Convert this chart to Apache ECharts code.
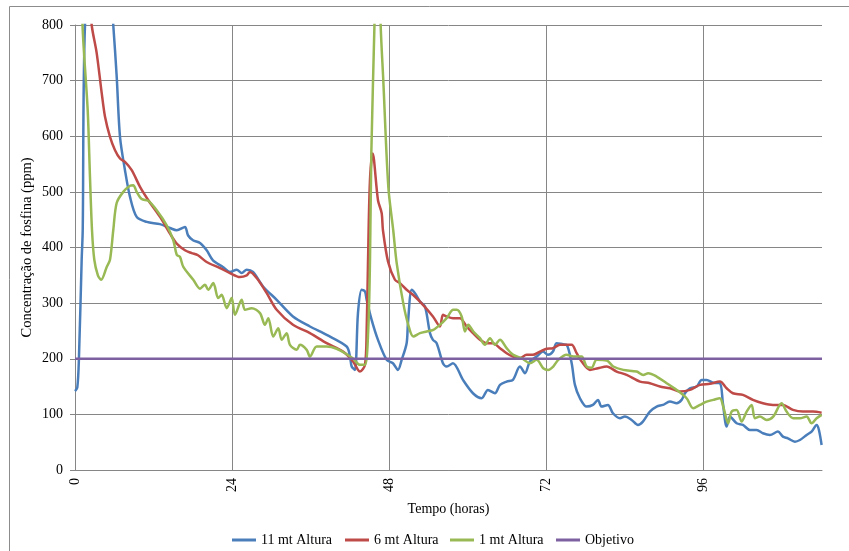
<!DOCTYPE html>
<html>
<head>
<meta charset="utf-8">
<script src="https://cdn.jsdelivr.net/npm/echarts@6/dist/echarts.min.js"></script>
<style>
html,body{margin:0;padding:0;background:#fff;}
#c{width:849px;height:551px;}
</style>
</head>
<body>
<div id="c"></div>
<script>
// ---- data (hours, ppm) ----
var hours11 = [0, 0.35, 0.6, 1.02, 1.18, 1.53, 3.6, 5.85, 6.37, 6.88, 7.64, 8.41, 9.43, 10.96, 12.99, 14.52, 15.55, 16.81, 17.27, 18.04, 19.11, 20.13, 21.09, 22.62, 23.69, 24.72, 25.48, 26.25, 27.21, 28.74, 30.83, 33.32, 35.92, 38.47, 41.53, 42.04, 42.3, 42.8, 43.26, 43.82, 44.33, 44.59, 45.35, 46.32, 47.65, 48.61, 49.37, 49.94, 50.7, 50.9, 51.47, 51.97, 52.74, 53.5, 54.27, 54.72, 55.29, 56.25, 56.82, 57.78, 59.31, 60.84, 62.17, 63.13, 64.2, 64.97, 65.99, 66.95, 68.02, 68.79, 69.55, 70.58, 71.54, 72.3, 73.07, 73.63, 74.6, 75.16, 75.93, 76.43, 77.19, 78.22, 79.18, 79.95, 80.51, 81.47, 82.24, 83.31, 84.07, 85.1, 86.06, 86.82, 87.89, 88.92, 89.88, 90.95, 91.98, 92.74, 93.25, 94.01, 95.04, 95.8, 96.57, 97.52, 98.59, 99.05, 99.62, 100.12, 101.15, 102.11, 103.18, 104.21, 105.17, 106.24, 107.46, 108.23, 108.99, 110.06, 110.82, 111.85, 112.61, 113.38, 113.73, 114.14];
var ppm11 = [142, 148, 200, 378, 431, 800, 1150, 800, 708, 599, 539, 491, 455, 446, 442, 435, 431, 437, 422, 413, 408, 395, 377, 365, 356, 360, 354, 360, 356, 330, 306, 276, 258, 243, 222, 204, 186, 180, 282, 324, 321, 306, 270, 234, 198, 192, 180, 198, 228, 264, 324, 318, 303, 294, 246, 234, 228, 192, 186, 192, 162, 138, 129, 144, 138, 153, 159, 162, 186, 174, 195, 204, 213, 207, 213, 228, 226, 225, 192, 153, 129, 114, 117, 126, 114, 117, 102, 93, 96, 90, 81, 87, 105, 114, 117, 123, 120, 126, 138, 147, 150, 162, 162, 157, 156, 120, 78, 96, 84, 81, 72, 72, 66, 63, 69, 60, 57, 51, 54, 63, 69, 81, 72, 45];

var hours6 = [0, 2.55, 3.31, 4.08, 4.59, 5.35, 6.12, 6.88, 7.64, 8.67, 9.94, 11.21, 13.0, 14.52, 15.55, 16.81, 17.83, 18.8, 20.13, 22.17, 23.69, 25.21, 26.25, 26.76, 27.78, 29.31, 30.83, 33.32, 35.92, 38.47, 40.97, 42.5, 43.26, 43.57, 44.33, 44.59, 44.79, 45.09, 45.51, 46.32, 46.88, 47.08, 47.85, 48.91, 49.68, 50.7, 51.67, 53.2, 54.72, 55.79, 56.25, 56.82, 57.78, 58.85, 59.87, 60.84, 61.91, 62.93, 63.9, 64.97, 65.99, 66.95, 68.02, 69.04, 70.01, 71.08, 72.1, 73.07, 74.14, 75.16, 75.93, 76.69, 77.45, 78.72, 79.95, 81.28, 82.8, 84.33, 86.37, 87.89, 89.42, 90.95, 92.48, 94.01, 95.54, 97.07, 98.59, 99.62, 100.58, 102.11, 103.64, 105.17, 106.69, 108.23, 109.76, 111.28, 112.81, 114.14];
var ppm6 = [1100, 800, 750, 678, 635, 599, 575, 560, 554, 539, 509, 485, 455, 425, 407, 395, 390, 386, 374, 363, 354, 347, 350, 356, 345, 318, 288, 261, 246, 228, 213, 195, 180, 177, 189, 252, 372, 520, 569, 485, 462, 431, 375, 342, 336, 324, 315, 297, 276, 258, 279, 276, 273, 273, 258, 246, 234, 228, 228, 219, 210, 204, 201, 207, 207, 213, 218, 219, 225, 225, 225, 210, 195, 180, 183, 186, 177, 171, 159, 156, 150, 147, 141, 144, 153, 155, 159, 147, 138, 135, 126, 120, 117, 117, 108, 105, 105, 103];

var hours1 = [0, 1.15, 1.94, 2.29, 2.6, 2.95, 3.5, 4.0, 4.85, 5.35, 5.85, 6.37, 7.38, 8.41, 8.91, 9.43, 10.2, 11.2, 12.49, 14.02, 15.03, 15.55, 16.05, 16.56, 18.08, 19.11, 19.87, 20.38, 21.14, 21.9, 22.42, 23.19, 23.95, 24.46, 25.48, 25.99, 27.01, 28.28, 29.04, 29.55, 30.31, 31.08, 31.6, 32.36, 32.86, 33.89, 34.39, 35.42, 35.92, 36.95, 38.47, 40.0, 41.53, 42.54, 43.56, 44.33, 44.83, 45.1, 45.3, 45.78, 46.25, 46.73, 47.13, 47.9, 48.65, 49.18, 50.18, 50.95, 51.71, 52.74, 53.76, 54.77, 55.79, 56.82, 57.83, 58.35, 59.11, 59.62, 60.12, 60.89, 61.91, 62.67, 63.44, 64.2, 64.97, 65.99, 67.0, 68.28, 69.55, 70.58, 71.58, 72.35, 73.11, 73.88, 75.16, 76.17, 77.45, 78.22, 78.98, 79.75, 81.28, 82.29, 83.82, 85.86, 86.87, 87.63, 88.92, 90.45, 91.98, 93.5, 94.51, 95.54, 96.56, 97.57, 98.59, 99.1, 99.86, 100.38, 101.15, 101.91, 102.68, 103.44, 103.94, 104.71, 105.73, 106.74, 108.02, 108.78, 109.8, 110.82, 111.85, 112.61, 113.38, 114.14];
var ppm1 = [1300, 800, 647, 527, 431, 378, 350, 342, 365, 378, 431, 480, 500, 511, 512, 500, 487, 484, 467, 440, 413, 387, 383, 365, 342, 326, 333, 324, 336, 309, 315, 291, 309, 279, 306, 288, 291, 282, 261, 273, 240, 255, 234, 246, 225, 216, 225, 216, 204, 222, 222, 218, 208, 200, 189, 189, 252, 378, 569, 800, 1050, 800, 701, 509, 431, 372, 300, 261, 240, 246, 249, 252, 261, 273, 288, 288, 276, 249, 261, 249, 237, 225, 237, 225, 234, 219, 207, 201, 192, 198, 183, 180, 186, 198, 207, 204, 204, 186, 184, 198, 197, 186, 180, 177, 171, 174, 168, 156, 144, 129, 111, 117, 123, 126, 129, 114, 84, 105, 108, 87, 105, 117, 93, 96, 90, 96, 120, 105, 93, 93, 96, 84, 93, 99];

var hoursObj = [0, 114.2];
var ppmObj = [200, 200];

var seriesNames = ['11 mt Altura', '6 mt Altura', '1 mt Altura', 'Objetivo'];
var xTicks = [0, 24, 48, 72, 96];
var yTicks = [0, 100, 200, 300, 400, 500, 600, 700, 800];

function zip(h, v) {
  var out = [];
  for (var i = 0; i < Math.min(h.length, v.length); i++) out.push([h[i], v[i]]);
  return out;
}

var FONT = "'Liberation Serif','Times New Roman',serif";
var GRID = '#868686';
var colors = ['#4A7EBB', '#BE4B48', '#98B954', '#7D60A0'];

var chart = echarts.init(document.getElementById('c'), null, {renderer: 'canvas'});

function lineSeries(name, data, color) {
  return {
    name: name, type: 'line', data: data, showSymbol: false, symbol: 'none',
    clip: true, animation: false, smooth: 0.3,
    lineStyle: {color: color, width: 2.5},
    itemStyle: {color: color}
  };
}

var legendLefts = [232, 345, 450, 556];
var legends = seriesNames.map(function (n, i) {
  return {
    data: [n], left: legendLefts[i], top: 533, padding: 0, icon: 'rect',
    itemWidth: 24, itemHeight: 3, selectedMode: false,
    textStyle: {fontFamily: FONT, fontSize: 14, color: '#000'}
  };
});

chart.setOption({
  animation: false,
  backgroundColor: '#fff',
  graphic: [{
    type: 'rect', shape: {x: 9.5, y: 6.5, width: 860, height: 560},
    style: {fill: null, stroke: '#8c8c8c', lineWidth: 1}, silent: true, z: -10
  }],
  grid: {left: 75, right: 27, top: 25, bottom: 81, containLabel: false},
  legend: legends,
  xAxis: {
    type: 'value', min: 0, max: 114.2, interval: 24,
    name: 'Tempo (horas)', nameLocation: 'middle', nameGap: 32,
    nameTextStyle: {fontFamily: FONT, fontSize: 14, color: '#000'},
    axisLine: {show: true, lineStyle: {color: GRID, width: 1}},
    axisTick: {show: false},
    axisLabel: {
      rotate: 90, margin: 8, fontFamily: FONT, fontSize: 14, color: '#000',
      showMaxLabel: false,
      formatter: function (v) { return xTicks.indexOf(v) >= 0 ? String(v) : ''; }
    },
    splitLine: {show: true, showMinLine: false, showMaxLine: false, lineStyle: {color: GRID, width: 1}}
  },
  yAxis: {
    type: 'value', min: 0, max: 800, interval: 100,
    name: 'Concentração de fosfina (ppm)', nameLocation: 'middle', nameGap: 40,
    nameMoveOverlap: false,
    nameTextStyle: {fontFamily: FONT, fontSize: 14.5, color: '#000'},
    axisLine: {show: true, lineStyle: {color: GRID, width: 1}},
    axisTick: {show: true, length: 5, lineStyle: {color: GRID}},
    axisLabel: {
      margin: 12, fontFamily: FONT, fontSize: 14, color: '#000',
      formatter: function (v) { return yTicks.indexOf(v) >= 0 ? String(v) : ''; }
    },
    splitLine: {show: true, lineStyle: {color: GRID, width: 1}}
  },
  series: [
    lineSeries(seriesNames[0], zip(hours11, ppm11), colors[0]),
    lineSeries(seriesNames[1], zip(hours6, ppm6), colors[1]),
    lineSeries(seriesNames[2], zip(hours1, ppm1), colors[2]),
    lineSeries(seriesNames[3], zip(hoursObj, ppmObj), colors[3])
  ]
});
</script>
</body>
</html>
